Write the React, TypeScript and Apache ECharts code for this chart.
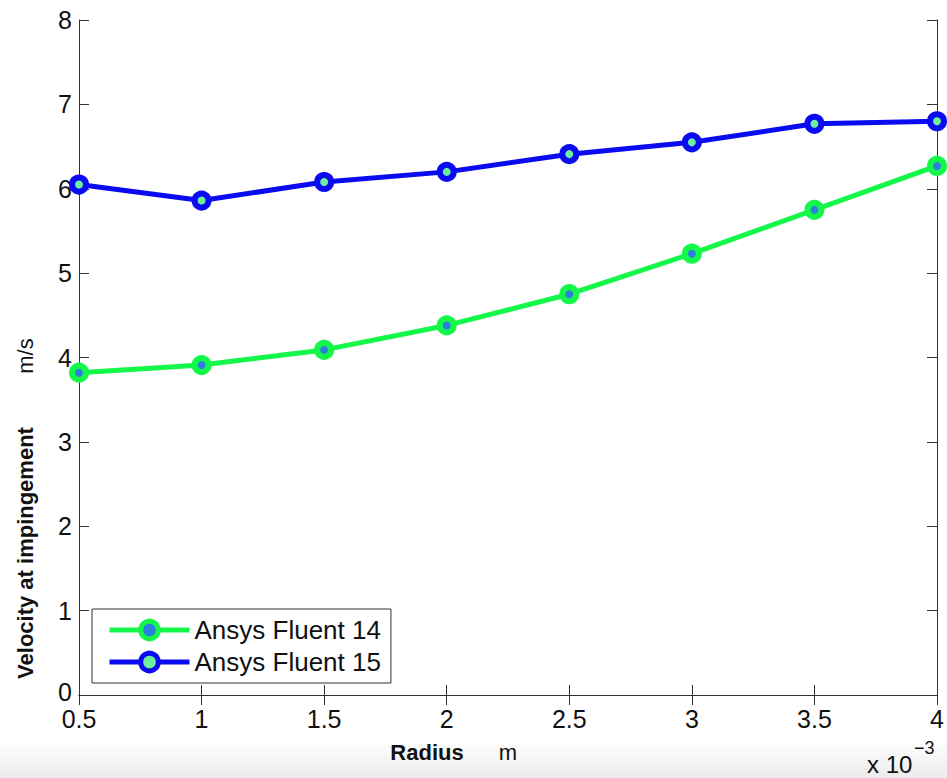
import React, { useEffect, useRef } from "react";
import * as echarts from "echarts";

const radius = [0.5, 1, 1.5, 2, 2.5, 3, 3.5, 4];
const fluent14 = [3.82, 3.91, 4.09, 4.38, 4.75, 5.23, 5.75, 6.27];
const fluent15 = [6.05, 5.86, 6.08, 6.2, 6.41, 6.55, 6.77, 6.8];
const seriesNames = ["Ansys Fluent 14", "Ansys Fluent 15"];

const FONT = "'Liberation Sans', Arial, Helvetica, sans-serif";

export default function App() {
  const ref = useRef<HTMLDivElement>(null);
  useEffect(() => {
    if (!ref.current) return;
    const chart = echarts.init(ref.current, undefined, { renderer: "svg" });
    const axisCommon = {
      axisLine: { show: true, lineStyle: { color: "#333", width: 1 } },
      axisTick: { show: true, inside: true, length: 10, lineStyle: { color: "#333", width: 1 } },
      splitLine: { show: false },
    };
    chart.setOption({
      animation: false,
      backgroundColor: "#ffffff",
      textStyle: { fontFamily: FONT },
      grid: { left: 79, right: 10, top: 20, bottom: 83, containLabel: false, show: false },
      xAxis: [
        {
          type: "value", min: 0.5, max: 4, interval: 0.5, position: "bottom",
          ...axisCommon,
          axisLabel: { fontSize: 25, lineHeight: 20, color: "#111", margin: 14, fontFamily: FONT },
        },
        {
          type: "value", min: 0.5, max: 4, interval: 0.5, position: "top",
          ...axisCommon,
          axisLabel: { show: false },
        },
      ],
      yAxis: [
        {
          type: "value", min: 0, max: 8, interval: 1, position: "left",
          ...axisCommon,
          axisLabel: {
            fontSize: 25, lineHeight: 20, color: "#111", margin: 7, fontFamily: FONT,
            formatter: (v: number) => (v === 0 ? "{z|0}" : String(v)),
            rich: { z: { fontSize: 25, lineHeight: 20, color: "#111", fontFamily: FONT, padding: [0, 0, 6, 0] } },
          },
        },
        {
          type: "value", min: 0, max: 8, interval: 1, position: "right",
          ...axisCommon,
          axisLabel: { show: false },
        },
      ],
      legend: {
        show: true,
        left: 92,
        top: 609,
        orient: "vertical",
        backgroundColor: "#ffffff",
        borderColor: "#333",
        borderWidth: 1,
        padding: [8, 10, 8, 15],
        itemGap: 6,
        itemWidth: 80,
        itemHeight: 22,
        textStyle: { fontSize: 26, color: "#111", fontFamily: FONT },
        lineStyle: { width: 5 },
        itemStyle: { borderWidth: 5 },
        data: seriesNames,
      },
      series: [
        {
          name: seriesNames[0],
          type: "line",
          data: radius.map((x, i) => [x, fluent14[i]]),
          symbol: "circle",
          symbolSize: 14,
          lineStyle: { color: "#14f84a", width: 5 },
          itemStyle: { color: "#2d7fe0", borderColor: "#14f84a", borderWidth: 6 },
          z: 3,
        },
        {
          name: seriesNames[1],
          type: "line",
          data: radius.map((x, i) => [x, fluent15[i]]),
          symbol: "circle",
          symbolSize: 14,
          lineStyle: { color: "#0b0bf2", width: 5 },
          itemStyle: { color: "#6cf0a0", borderColor: "#0b0bf2", borderWidth: 6 },
          z: 3,
        },
      ],
      graphic: [
        {
          type: "rect",
          left: 0,
          top: 740,
          shape: { width: 947, height: 38 },
          style: {
            fill: new echarts.graphic.LinearGradient(0, 0, 0, 1, [
              { offset: 0, color: "#ffffff" },
              { offset: 1, color: "#ececec" },
            ]),
          },
          z: -10,
          silent: true,
        },
        {
          type: "text",
          x: 25,
          y: 553,
          rotation: Math.PI / 2,
          style: {
            text: "Velocity at impingement",
            font: `bold 22px ${FONT}`,
            fill: "#111",
            textAlign: "center",
            textVerticalAlign: "middle",
          },
        },
        {
          type: "text",
          x: 25,
          y: 356,
          rotation: Math.PI / 2,
          style: {
            text: "m/s",
            font: `22px ${FONT}`,
            fill: "#111",
            textAlign: "center",
            textVerticalAlign: "middle",
          },
        },
        {
          type: "text",
          x: 427,
          y: 752,
          style: {
            text: "Radius",
            font: `bold 22px ${FONT}`,
            fill: "#111",
            textAlign: "center",
            textVerticalAlign: "middle",
          },
        },
        {
          type: "text",
          x: 508,
          y: 752,
          style: {
            text: "m",
            font: `22px ${FONT}`,
            fill: "#111",
            textAlign: "center",
            textVerticalAlign: "middle",
          },
        },
        {
          type: "text",
          x: 867,
          y: 764,
          style: {
            text: "x 10",
            font: `24px ${FONT}`,
            fill: "#111",
            textAlign: "left",
            textVerticalAlign: "middle",
          },
        },
        {
          type: "text",
          x: 914,
          y: 748,
          style: {
            text: "\u22123",
            font: `18px ${FONT}`,
            fill: "#111",
            textAlign: "left",
            textVerticalAlign: "middle",
          },
        },
      ],
    });
    return () => chart.dispose();
  }, []);
  return (
    <div
      ref={ref}
      style={{ position: "absolute", left: 0, top: 0, width: 947, height: 778 }}
    />
  );
}
